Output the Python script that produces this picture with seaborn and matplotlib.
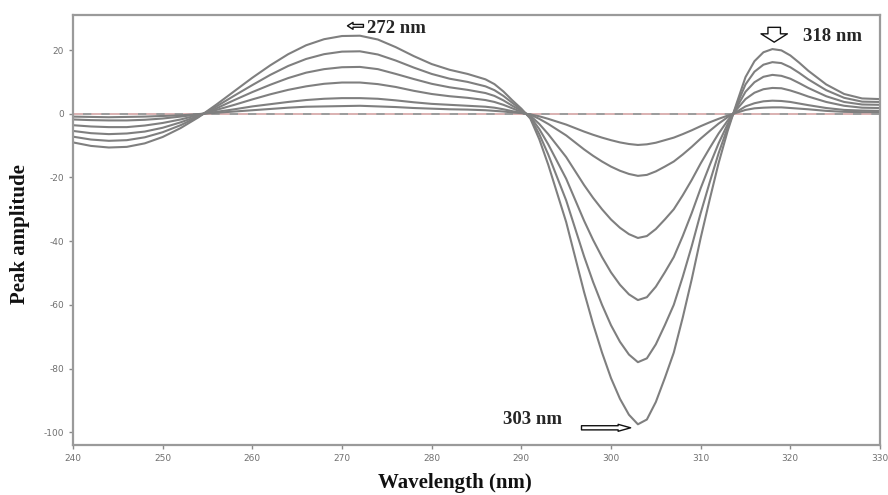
import numpy as np
import pandas as pd
import matplotlib
matplotlib.use("Agg")
import matplotlib.pyplot as plt
import seaborn as sns
from matplotlib.patches import FancyArrowPatch

wavelength = [240, 242, 244, 246, 248, 250, 252, 254, 256, 258, 260, 262, 264, 266, 268, 270,
              272, 274, 276, 278, 280, 282, 284, 286, 287, 288, 289, 290, 291, 292, 293, 294,
              295, 296, 297, 298, 299, 300, 301, 302, 303, 304, 305, 306, 307, 308, 309, 310,
              311, 312, 313, 314, 315, 316, 317, 318, 319, 320, 321, 322, 324, 326, 328, 330]

curve_1 = [-9.0, -10.1, -10.6, -10.4, -9.3, -7.3, -4.5, -1.1, 2.9, 7.1, 11.3, 15.2, 18.7, 21.5, 23.4, 24.4,
           24.5, 23.3, 20.9, 18.1, 15.6, 13.8, 12.5, 10.8, 9.3, 7.0, 4.2, 1.6, -1.5, -8, -16, -25,
           -34, -45, -56, -66, -75, -83, -89.5, -94.5, -97.5, -96, -90.5, -83, -75, -64, -52, -39,
           -27, -15.5, -5.5, 3.2, 11.5, 16.5, 19.3, 20.3, 19.9, 18.3, 16.0, 13.5, 9.2, 6.2, 4.8, 4.6]
curve_2 = [-7.2, -8.1, -8.5, -8.3, -7.4, -5.8, -3.6, -0.9, 2.3, 5.7, 9.0, 12.2, 15.0, 17.2, 18.7, 19.5,
           19.6, 18.6, 16.7, 14.5, 12.5, 11.0, 10.0, 8.6, 7.4, 5.6, 3.4, 1.3, -1.2, -6.4, -12.8, -20.0,
           -27.2, -36.0, -44.8, -52.8, -60.0, -66.4, -71.6, -75.6, -78.0, -76.8, -72.4, -66.4, -60.0, -51.2, -41.6, -31.2,
           -21.6, -12.4, -4.4, 2.6, 9.2, 13.2, 15.4, 16.2, 15.9, 14.6, 12.8, 10.8, 7.4, 5.0, 3.8, 3.7]
curve_3 = [-5.4, -6.1, -6.4, -6.2, -5.6, -4.4, -2.7, -0.7, 1.7, 4.3, 6.8, 9.1, 11.2, 12.9, 14.0, 14.6,
           14.7, 14.0, 12.5, 10.9, 9.4, 8.3, 7.5, 6.5, 5.6, 4.2, 2.5, 1.0, -0.9, -4.8, -9.6, -15.0,
           -20.4, -27.0, -33.6, -39.6, -45.0, -49.8, -53.7, -56.7, -58.5, -57.6, -54.3, -49.8, -45.0, -38.4, -31.2, -23.4,
           -16.2, -9.3, -3.3, 1.9, 6.9, 9.9, 11.6, 12.2, 11.9, 11.0, 9.6, 8.1, 5.5, 3.7, 2.9, 2.8]
curve_4 = [-3.6, -4.0, -4.2, -4.2, -3.7, -2.9, -1.8, -0.4, 1.2, 2.8, 4.5, 6.1, 7.5, 8.6, 9.4, 9.8,
           9.8, 9.3, 8.4, 7.2, 6.2, 5.5, 5.0, 4.3, 3.7, 2.8, 1.7, 0.6, -0.6, -3.2, -6.4, -10.0,
           -13.6, -18.0, -22.4, -26.4, -30.0, -33.2, -35.8, -37.8, -39.0, -38.4, -36.2, -33.2, -30.0, -25.6, -20.8, -15.6,
           -10.8, -6.2, -2.2, 1.3, 4.6, 6.6, 7.7, 8.1, 8.0, 7.3, 6.4, 5.4, 3.7, 2.5, 1.9, 1.8]
curve_5 = [-1.8, -2.0, -2.1, -2.1, -1.9, -1.5, -0.9, -0.2, 0.6, 1.4, 2.3, 3.0, 3.7, 4.3, 4.7, 4.9,
           4.9, 4.7, 4.2, 3.6, 3.1, 2.8, 2.5, 2.2, 1.9, 1.4, 0.8, 0.3, -0.3, -1.6, -3.2, -5.0,
           -6.8, -9.0, -11.2, -13.2, -15.0, -16.6, -17.9, -18.9, -19.5, -19.2, -18.1, -16.6, -15.0, -12.8, -10.4, -7.8,
           -5.4, -3.1, -1.1, 0.6, 2.3, 3.3, 3.9, 4.1, 4.0, 3.7, 3.2, 2.7, 1.8, 1.2, 1.0, 0.9]
curve_6 = [-0.9, -1.0, -1.1, -1.0, -0.9, -0.7, -0.5, -0.1, 0.3, 0.7, 1.1, 1.5, 1.9, 2.2, 2.3, 2.4,
           2.5, 2.3, 2.1, 1.8, 1.6, 1.4, 1.3, 1.1, 0.9, 0.7, 0.4, 0.2, -0.2, -0.8, -1.6, -2.5,
           -3.4, -4.5, -5.6, -6.6, -7.5, -8.3, -9.0, -9.5, -9.8, -9.6, -9.1, -8.3, -7.5, -6.4, -5.2, -3.9,
           -2.7, -1.6, -0.6, 0.3, 1.2, 1.7, 1.9, 2.0, 2.0, 1.8, 1.6, 1.4, 0.9, 0.6, 0.5, 0.5]

x_ticks = [240, 250, 260, 270, 280, 290, 300, 310, 320, 330]
y_ticks = [20, 0, -20, -40, -60, -80, -100]
peak_labels = ["272 nm", "318 nm", "303 nm"]

curves = {"c1": curve_1, "c2": curve_2, "c3": curve_3, "c4": curve_4, "c5": curve_5, "c6": curve_6}
frames = [pd.DataFrame({"wl": wavelength, "amp": v, "curve": k}) for k, v in curves.items()]
df = pd.concat(frames, ignore_index=True)

sns.set_theme(style="white")
plt.rcParams["axes.unicode_minus"] = False
fig = plt.figure(figsize=(8.88, 4.95), dpi=100)
ax = fig.add_axes([73 / 888, 1 - 445 / 495, 807 / 888, 430 / 495])

ax.axhline(0, color="#8a8a8a", lw=1.2, zorder=1)
ax.axhline(0, color="#e8b8b8", lw=1.2, ls=(0, (6, 5)), zorder=1.5)

sns.lineplot(data=df, x="wl", y="amp", hue="curve", estimator=None, sort=False,
             palette=["#7f7f7f"] * 6, lw=1.5, legend=False, ax=ax, zorder=2)

ax.set_xlim(240, 330)
ax.set_ylim(-104, 31)
ax.set_xticks(x_ticks)
ax.set_yticks(y_ticks)
ax.tick_params(axis="both", labelsize=6.5, labelcolor="#707070", colors="#8a8a8a",
               length=3, width=1, direction="out", bottom=True, left=True)
for s in ax.spines.values():
    s.set_color("#9a9a9a")
    s.set_linewidth(1.6)

serif = ["Liberation Serif", "DejaVu Serif"]
ax.set_xlabel("Wavelength (nm)", fontsize=15, fontweight="bold", family=serif, color="#111111")
ax.set_ylabel("Peak amplitude", fontsize=15, fontweight="bold", family=serif, color="#111111")
ax.xaxis.set_label_coords(0.473, -0.065)
ax.yaxis.set_label_coords(-0.053, 0.49)

tfs = 13.5
# 272 nm
ax.text(272.8, 26.9, peak_labels[0], fontsize=tfs, fontweight="bold", family=serif, va="center", ha="left")
ax.add_patch(FancyArrowPatch((272.7, 27.6), (270.3, 27.6),
                             arrowstyle="simple,head_width=5,head_length=4,tail_width=2",
                             mutation_scale=1, facecolor="white", edgecolor="#111111", lw=1.0, zorder=5))
# 318 nm
ax.text(321.4, 24.4, peak_labels[1], fontsize=tfs, fontweight="bold", family=serif, va="center", ha="left")
ax.add_patch(FancyArrowPatch((318.2, 28.0), (318.2, 21.6),
                             arrowstyle="simple,head_width=19,head_length=6,tail_width=9",
                             mutation_scale=1, facecolor="white", edgecolor="#111111", lw=1.0, zorder=5))
# 303 nm
ax.text(291.2, -95.9, peak_labels[2], fontsize=tfs, fontweight="bold", family=serif, va="center", ha="center")
ax.add_patch(FancyArrowPatch((296.4, -98.6), (302.5, -98.6),
                             arrowstyle="simple,head_width=5,head_length=9,tail_width=3",
                             mutation_scale=1, facecolor="white", edgecolor="#111111", lw=1.0, zorder=5))

fig.savefig("out.png", dpi=100)
